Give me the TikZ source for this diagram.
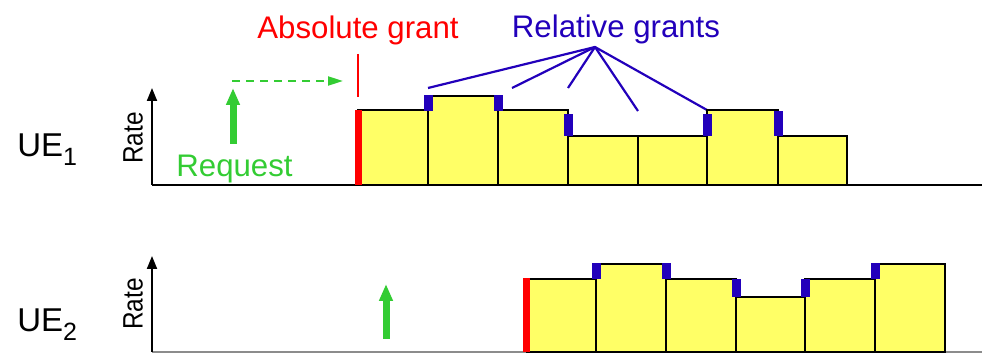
\documentclass[tikz,border=0pt]{standalone}
\usepackage{fontspec}
\setmainfont{Liberation Sans}
\usetikzlibrary{arrows.meta}
\definecolor{grantred}{RGB}{255,0,0}
\definecolor{grantblue}{RGB}{34,0,187}
\definecolor{reqgreen}{RGB}{51,204,51}
\definecolor{baryellow}{RGB}{255,255,102}
\tikzset{
  bar/.style={draw=black,line width=1.1pt,fill=baryellow},
  relmark/.style={fill=grantblue},
  absmark/.style={fill=grantred},
  axis/.style={line width=1pt,-{Triangle[length=6.5pt,width=5pt]}},
  reqarrow/.style={draw=reqgreen,line width=3.5pt,-{Triangle[length=8.5pt,width=6.5pt]}},
  bigtext/.style={inner sep=0pt,font=\fontsize{15.6}{18}\selectfont},
  uetext/.style={inner sep=0pt,font=\fontsize{16.5}{19}\selectfont},
  ratetext/.style={inner sep=0pt,rotate=90,yscale=1.15,font=\fontsize{12.2}{14}\selectfont}
}

\begin{document}
\begin{tikzpicture}[x=0.5pt,y=-0.5pt]
\useasboundingbox (0,0) rectangle (982,353);
% labels above the upper panel
\node[bigtext,text=grantred,anchor=base] (absgrant) at (358,39) {Absolute grant};
\node[bigtext,text=grantblue,anchor=base] (relgrants) at (616,38) {Relative grants};
\coordinate (absfrom) at (358,54);
\coordinate (absto) at (358,97);
\draw[grantred,line width=1pt] (absfrom) -- (absto);
\coordinate (apex) at (595,47);
\coordinate (rg1) at (428,88);
\coordinate (rg2) at (512,88);
\coordinate (rg3) at (568,88);
\coordinate (rg4) at (638,111);
\coordinate (rg5) at (707,110);
\draw[grantblue,line width=1.1pt] (rg1) -- (apex) -- (rg5);
\draw[grantblue,line width=1.1pt] (apex) -- (rg2);
\draw[grantblue,line width=1.1pt] (apex) -- (rg3);
\draw[grantblue,line width=1.1pt] (apex) -- (rg4);
% upper panel: UE1
\node[uetext,anchor=base west] (ue1) at (17,157) {UE\raisebox{-4.5pt}{\fontsize{12.5}{13}\selectfont 1}};
\node[ratetext] (rate1) at (133,138) {Rate};
\draw[line width=1pt] (152,185) -- (982,185);
\draw[axis] (152,185) -- (152,88);
\coordinate (req1) at (233,144);
\coordinate (req1tip) at (233,88);
\draw[reqarrow] (req1) -- (req1tip);
\node[bigtext,text=reqgreen,anchor=base] (request) at (234.5,177) {Request};
\coordinate (dashfrom) at (232,81);
\coordinate (dashto) at (343,81);
\draw[reqgreen,line width=1pt,dash pattern=on 4pt off 3pt,-{Triangle[length=7.5pt,width=4.5pt]}] (dashfrom) -- (dashto);
\draw[bar] (358,110) rectangle (428,185);
\draw[bar] (428,96) rectangle (498,185);
\draw[bar] (498,110) rectangle (568,185);
\draw[bar] (568,136) rectangle (638,185);
\draw[bar] (638,136) rectangle (707,185);
\draw[bar] (707,110) rectangle (778,185);
\draw[bar] (778,136) rectangle (847,185);
\fill[absmark] (354.5,110) rectangle (361.5,185);
\fill[relmark] (424,95) rectangle (432.5,111);
\fill[relmark] (494,95) rectangle (502.5,111);
\fill[relmark] (564,114) rectangle (572.5,136);
\fill[relmark] (703,114) rectangle (711.5,136);
\fill[relmark] (774,111) rectangle (782.5,136);
% lower panel: UE2
\node[uetext,anchor=base west] (ue2) at (17,332) {UE\raisebox{-4.5pt}{\fontsize{12.5}{13}\selectfont 2}};
\node[ratetext] (rate2) at (133,304) {Rate};
\draw[black!45,line width=0.75pt] (152,352) -- (982,352);
\draw[axis] (152,352) -- (152,256);
\coordinate (req2) at (386,339);
\coordinate (req2tip) at (386,284);
\draw[reqarrow] (req2) -- (req2tip);
\draw[bar] (527,279) rectangle (596,352);
\draw[bar] (596,264) rectangle (666,352);
\draw[bar] (666,279) rectangle (736,352);
\draw[bar] (736,297) rectangle (805,352);
\draw[bar] (805,279) rectangle (875,352);
\draw[bar] (875,264) rectangle (945,352);
\fill[absmark] (523,278) rectangle (530,352);
\fill[relmark] (592,263) rectangle (600.5,279);
\fill[relmark] (662,263) rectangle (670.5,279);
\fill[relmark] (732,279) rectangle (740.5,297);
\fill[relmark] (801,279) rectangle (809.5,297);
\fill[relmark] (871,263) rectangle (879.5,279);
\end{tikzpicture}
\end{document}
